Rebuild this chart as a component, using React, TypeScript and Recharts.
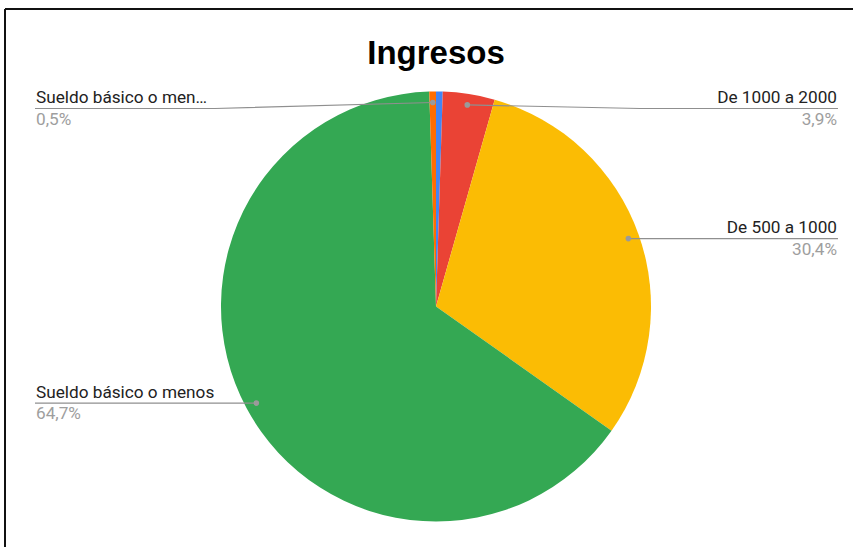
import React from "react";
import { PieChart, Pie, Cell } from "recharts";

const categories = [
  "Más de 2000",
  "De 1000 a 2000",
  "De 500 a 1000",
  "Sueldo básico o menos",
  "Sueldo básico o men…",
];
const values = [0.5, 3.9, 30.4, 64.7, 0.5];
const colors = ["#4285F4", "#EA4335", "#FBBC04", "#34A853", "#FF6D01"];
const showLabel = [false, true, true, true, true];
const title = "Ingresos";

const data = categories.map((name, i) => ({ name, value: values[i] }));

const RADIAN = Math.PI / 180;
const FONT = "Roboto, Arial, sans-serif";

const renderLabel = (props: any) => {
  const { cx, cy, midAngle, outerRadius, index, percent, name } = props;
  if (!showLabel[index]) return null;
  const r = outerRadius - 11;
  const dx = cx + r * Math.cos(-midAngle * RADIAN);
  const dy = cy + r * Math.sin(-midAngle * RADIAN);
  const right = dx >= cx;
  const lineY = Math.max(dy, 108.5);
  const endX = right ? 838 : 35;
  const bendX = right ? Math.max(640, dx) : Math.min(215, dx);
  const pct = (percent * 100).toFixed(1).replace(".", ",") + "%";
  const textX = right ? 837 : 36;
  const anchor = right ? "end" : "start";
  return (
    <g>
      <polyline
        points={`${dx},${dy} ${bendX},${lineY} ${endX},${lineY}`}
        fill="none"
        stroke="#8f8f8f"
        strokeWidth={1.2}
      />
      <circle cx={dx} cy={dy} r={2.8} fill="#9a9a9a" />
      <text
        x={textX}
        y={lineY - 5.5}
        textAnchor={anchor}
        fontFamily={FONT}
        fontSize={17.2}
        fill="#222222"
      >
        {name}
      </text>
      <text
        x={textX}
        y={lineY + 16}
        textAnchor={anchor}
        fontFamily={FONT}
        fontSize={17.2}
        fill="#9e9e9e"
      >
        {pct}
      </text>
    </g>
  );
};

export default function App() {
  return (
    <div
      style={{
        position: "absolute",
        left: 0,
        top: 0,
        width: 853,
        height: 547,
        background: "#fff",
        overflow: "hidden",
      }}
    >
      <PieChart width={853} height={547} margin={{ top: 0, right: 0, bottom: 0, left: 0 }}>
        <Pie
          data={data}
          dataKey="value"
          nameKey="name"
          cx={436}
          cy={306.5}
          outerRadius={215}
          startAngle={90}
          endAngle={-270}
          stroke="none"
          label={renderLabel}
          labelLine={false}
          isAnimationActive={false}
        >
          {data.map((d, i) => (
            <Cell key={d.name + i} fill={colors[i]} />
          ))}
        </Pie>
      </PieChart>
      <svg
        width={853}
        height={547}
        style={{ position: "absolute", left: 0, top: 0, pointerEvents: "none" }}
      >
        <line x1={5} y1={9} x2={853} y2={9} stroke="#111" strokeWidth={2} />
        <line x1={5} y1={9} x2={5} y2={547} stroke="#111" strokeWidth={2} />
        <text
          x={436}
          y={64}
          textAnchor="middle"
          fontFamily="'Liberation Sans', Arial, sans-serif"
          fontWeight="bold"
          fontSize={33}
          fill="#000"
        >
          {title}
        </text>
      </svg>
    </div>
  );
}
